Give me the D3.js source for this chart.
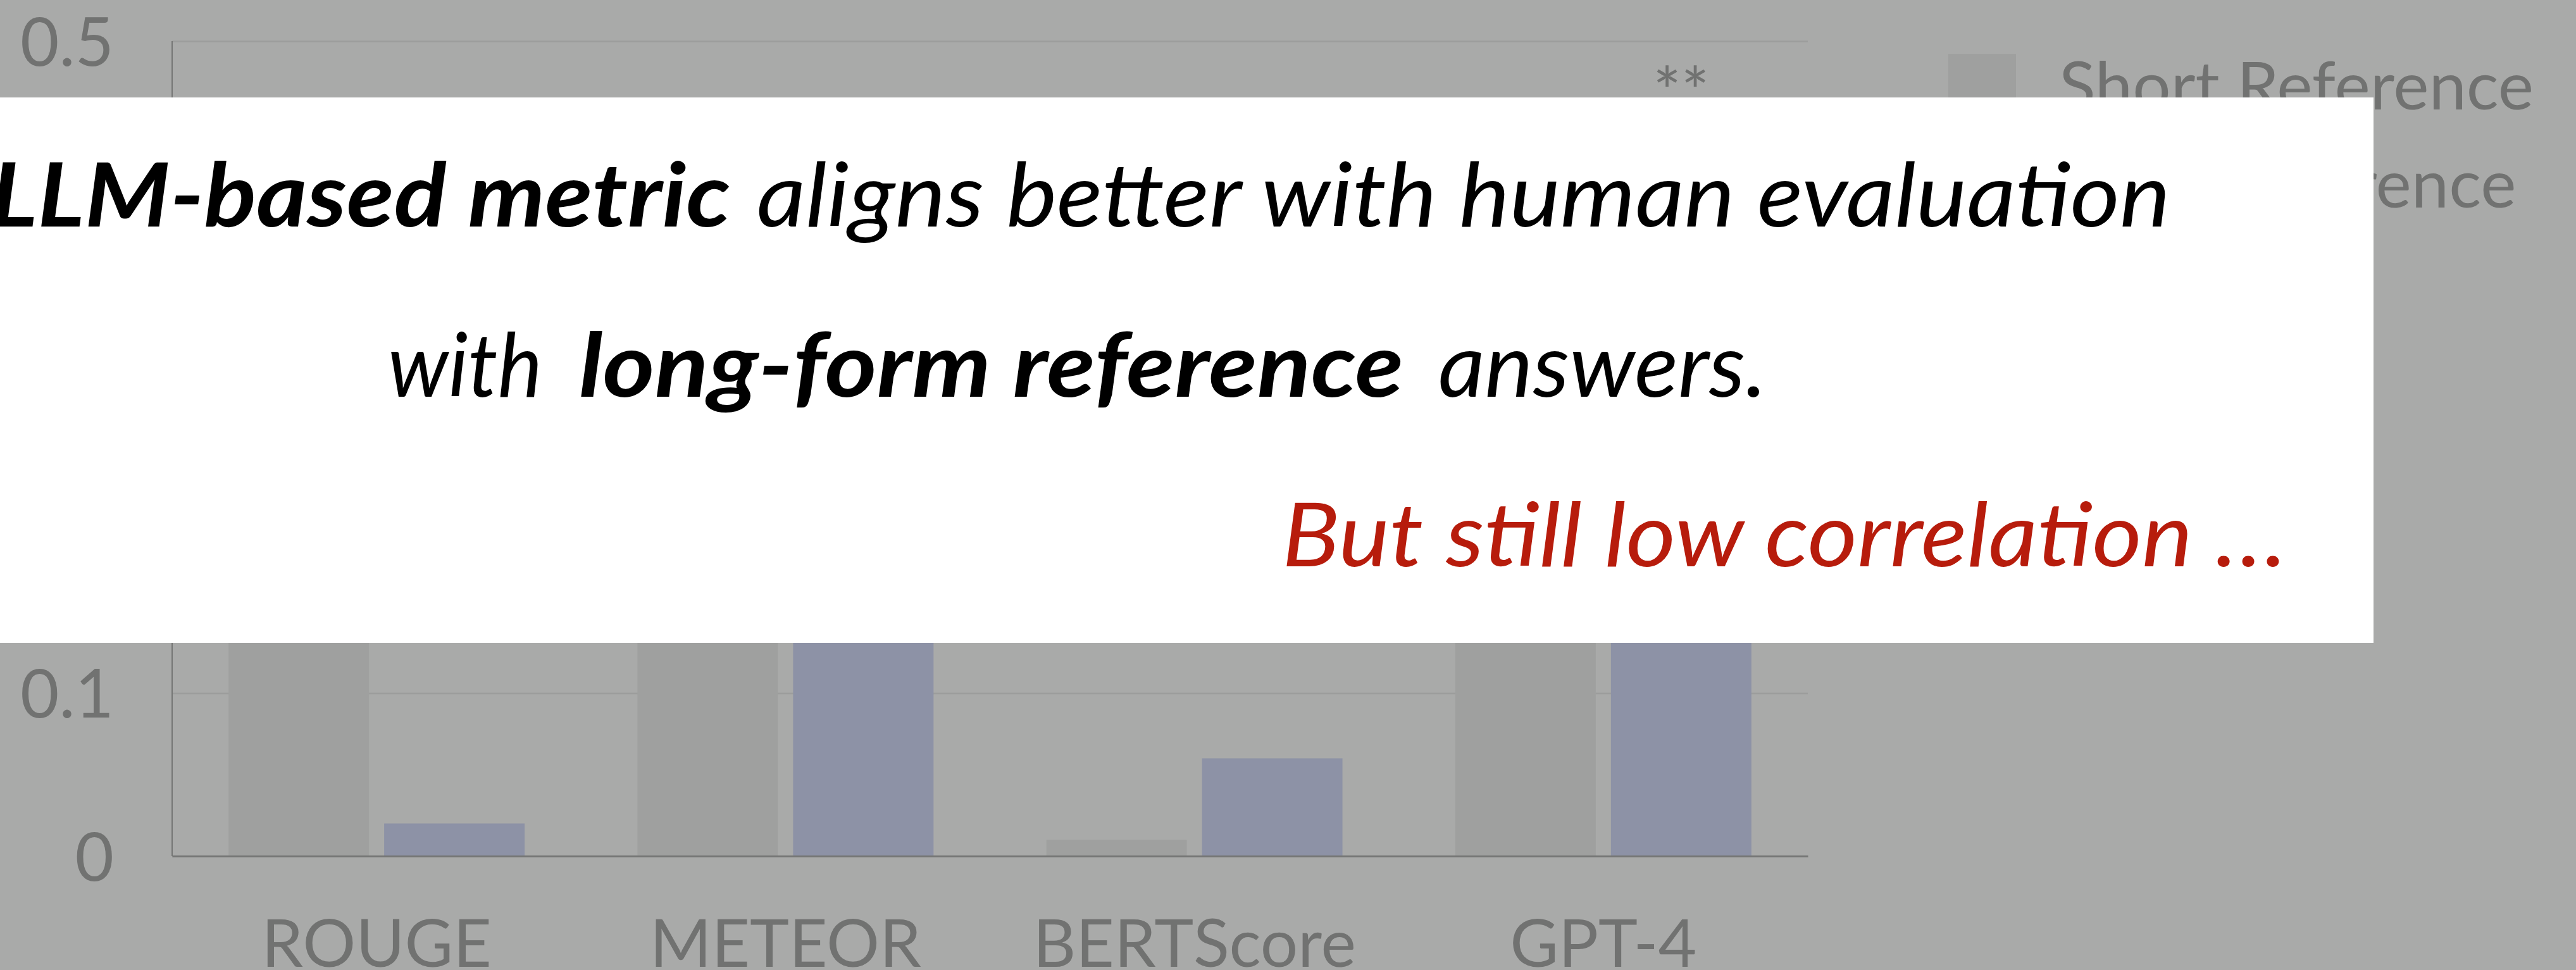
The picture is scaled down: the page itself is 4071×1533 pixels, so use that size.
<!DOCTYPE html>
<html>
<head>
<meta charset="utf-8">
<script src="https://cdn.jsdelivr.net/npm/d3@7/dist/d3.min.js"></script>
<style>
  html, body { margin: 0; padding: 0; background: #a9aaa9; overflow: hidden; }
  svg { display: block; }
</style>
</head>
<body>
<svg id="chart" width="4071" height="1533"></svg>
<script>
// ---- data ----
const categories = ["ROUGE", "METEOR", "BERTScore", "GPT-4"];
const seriesNames = ["Short Reference", "Long Reference"];
const shortValues = [0.20, 0.25, 0.01, 0.35];
const longValues  = [0.02, 0.30, 0.06, 0.45];
const yTicks = [0, 0.1, 0.2, 0.3, 0.4, 0.5];
const yTickLabels = ["0", "0.1", "0.2", "0.3", "0.4", "0.5"];
const annotationCategories = ["GPT-4"];
const annotationSeries = ["Long Reference"];
const annotationTexts = ["**"];

const line1 = [["LLM-based metric", true], ["aligns better with human evaluation", false]];
const line2 = [["with", false], ["long-form reference", true], ["answers.", false]];
const line3 = [["But still low correlation \u2026", false]];

// ---- styles ----
const W = 4071, H = 1533;
const colBg = "#a9aaa9", colShort = "#9fa09f", colLong = "#8d92a6";
const colText = "#717271", colGrid = "#9c9d9c", colAxis = "#757675";
const FONT = "Lato, 'Open Sans', sans-serif";

const svg = d3.select("#chart");
svg.append("rect").attr("width", W).attr("height", H).attr("fill", colBg);

const plotL = 272, plotR = 2857, plotB = 1353, plotT = 65;

const x0 = d3.scaleBand().domain(categories).range([plotL, plotR])
  .paddingInner(0.276).paddingOuter(0.138);
const x1 = d3.scaleBand().domain(seriesNames).range([0, x0.bandwidth()])
  .paddingInner(0.0976).paddingOuter(0);
const y = d3.scaleLinear().domain([0, 0.5]).range([plotB, plotT]);
const color = d3.scaleOrdinal().domain(seriesNames).range([colShort, colLong]);

// gridlines
const grid = svg.append("g").attr("transform", `translate(${plotL},0)`)
  .call(d3.axisLeft(y).tickValues(yTicks).tickSize(-(plotR - plotL)).tickFormat(""));
grid.select(".domain").remove();
grid.selectAll(".tick line").attr("stroke", colGrid).attr("stroke-width", 2.5);

// tick labels
const yAxis = svg.append("g").attr("transform", `translate(180,0)`)
  .call(d3.axisLeft(y).tickValues(yTicks).tickSize(0).tickPadding(0)
    .tickFormat((d, i) => yTickLabels[i]));
yAxis.select(".domain").remove();
yAxis.selectAll(".tick text").attr("fill", colText).attr("font-family", FONT)
  .attr("font-size", 106).attr("font-weight", 400).attr("dy", "0.36em");

// bars
const rows = categories.map((c, i) => ({ cat: c, vals: [shortValues[i], longValues[i]] }));
const groups = svg.append("g").selectAll("g").data(rows).join("g")
  .attr("transform", d => `translate(${x0(d.cat)},0)`);
groups.selectAll("rect").data(d => d.vals.map((v, j) => ({ s: seriesNames[j], v })))
  .join("rect")
  .attr("x", d => x1(d.s)).attr("width", x1.bandwidth())
  .attr("y", d => y(d.v)).attr("height", d => y(0) - y(d.v))
  .attr("fill", d => color(d.s));

// axes lines
svg.append("line").attr("x1", plotL).attr("x2", plotL).attr("y1", plotT).attr("y2", plotB)
  .attr("stroke", colAxis).attr("stroke-width", 2);
const xAxis = svg.append("g").attr("transform", `translate(0,${plotB})`)
  .call(d3.axisBottom(x0).tickSize(0).tickPadding(0));
xAxis.select(".domain").attr("stroke", colAxis).attr("stroke-width", 3);
xAxis.selectAll(".tick text").attr("fill", colText).attr("font-family", FONT)
  .attr("font-size", 105).attr("dy", 0).attr("y", 175);

// annotation
annotationTexts.forEach((t, i) => {
  const ci = categories.indexOf(annotationCategories[i]);
  const si = seriesNames.indexOf(annotationSeries[i]);
  const v = si === 0 ? shortValues[ci] : longValues[ci];
  svg.append("text")
    .attr("x", x0(annotationCategories[i]) + x1(annotationSeries[i]) + x1.bandwidth() / 2)
    .attr("y", y(v) - 12)
    .attr("text-anchor", "middle").attr("fill", colText)
    .attr("font-family", FONT).attr("font-size", 105).text(t);
});

// legend
const leg = svg.append("g").attr("transform", "translate(3079,85)");
const legItems = leg.selectAll("g").data(seriesNames).join("g")
  .attr("transform", (d, i) => `translate(0,${i * 155})`);
legItems.append("rect").attr("width", 107).attr("height", 107).attr("fill", d => color(d));
const legTexts = legItems.append("text").attr("x", 175).attr("y", 88)
  .attr("fill", colText).attr("font-family", FONT).attr("font-size", 105).text(d => d);
const natShort = legTexts.nodes()[0].getComputedTextLength();
const legScale = 750 / natShort;
legTexts.each(function () {
  const w = this.getComputedTextLength() * legScale;
  d3.select(this).attr("textLength", w).attr("lengthAdjust", "spacingAndGlyphs");
});

// overlay box
svg.append("rect").attr("x", -400).attr("y", 154).attr("width", 400 + 3751).attr("height", 1016 - 154)
  .attr("fill", "#ffffff");

function seg(txt, x, x2, yb, bold, fill) {
  svg.append("text").attr("x", x).attr("y", yb)
    .attr("font-family", FONT).attr("font-style", "italic")
    .attr("font-weight", bold ? 700 : 400).attr("font-size", 140)
    .attr("fill", fill)
    .attr("textLength", x2 - x).attr("lengthAdjust", "spacingAndGlyphs")
    .text(txt);
}
seg(line1[0][0], -15, 1154, 358, line1[0][1], "#000");
seg(line1[1][0], 1196, 3430, 358, line1[1][1], "#000");
seg(line2[0][0], 613, 857, 627, line2[0][1], "#000");
seg(line2[1][0], 915, 2218, 627, line2[1][1], "#000");
seg(line2[2][0], 2273, 2792, 627, line2[2][1], "#000");
seg(line3[0][0], 2026, 3614, 895, line3[0][1], "#b71c0c");
</script>
</body>
</html>
